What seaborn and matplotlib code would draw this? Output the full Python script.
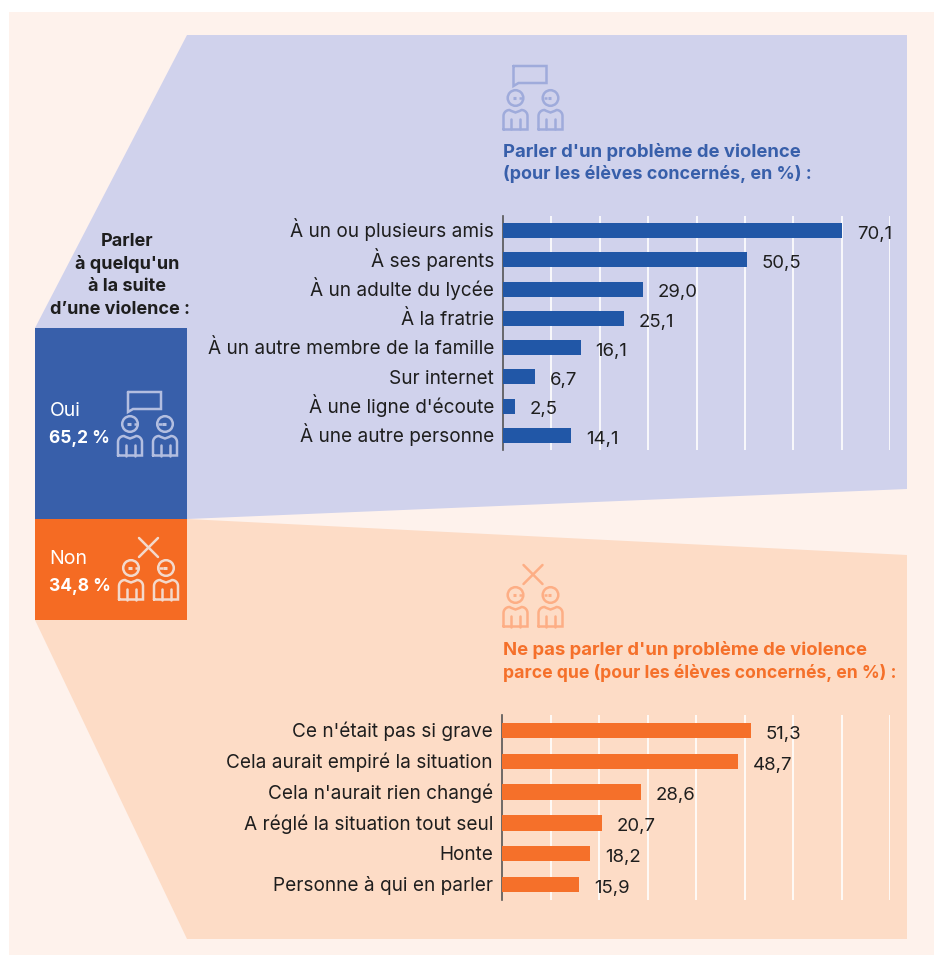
import numpy as np
import pandas as pd
import matplotlib
matplotlib.use("Agg")
import matplotlib.pyplot as plt
from matplotlib.patches import Polygon, Rectangle, Circle
from matplotlib.transforms import ScaledTranslation
import seaborn as sns

W, H = 939, 955

oui_labels = ["À un ou plusieurs amis", "À ses parents", "À un adulte du lycée", "À la fratrie",
              "À un autre membre de la famille", "Sur internet", "À une ligne d'écoute", "À une autre personne"]
oui_values = [70.1, 50.5, 29.0, 25.1, 16.1, 6.7, 2.5, 14.1]

non_labels = ["Ce n'était pas si grave", "Cela aurait empiré la situation", "Cela n'aurait rien changé",
              "A réglé la situation tout seul", "Honte", "Personne à qui en parler"]
non_values = [51.3, 48.7, 28.6, 20.7, 18.2, 15.9]

CREAM = "#FEF2EC"
LAVENDER = "#D0D2EC"
PEACH = "#FDDCC6"
BLUE = "#385FAA"
ORANGE = "#F56B23"
BAR_BLUE = "#2157A7"
BAR_ORANGE = "#F5702A"
INK = "#1E1E1E"
FONT = "Inter"
LABEL_SIZE = 13.7
VALUE_SIZE = 13.4

sns.set_theme(style="white")
plt.rcParams["font.family"] = FONT


def person(bg, x, y, col, side=1, lw=1.8):
    # head, eye marks and body, x/y is the head centre in pixels
    bg.add_patch(Circle((x, y), 7.8, fill=False, ec=col, lw=lw))
    bg.plot([x - 3, x + 0.5], [y, y], color=col, lw=lw + 0.4, solid_capstyle="butt")
    bg.plot([x + 3.5 * side, x + 7 * side], [y, y], color=col, lw=lw, solid_capstyle="butt")
    t = np.linspace(np.pi, 1.5 * np.pi, 10)
    xs = [x - 12] + list(x - 6 + 6 * np.cos(t)) + [x - 4, x, x + 4] + list(x + 6 - 6 * np.cos(t[::-1])) + [x + 12, x + 12, x - 12, x - 12]
    ys = [y + 31.5] + list(y + 18 + 6 * np.sin(t)) + [y + 13, y + 14.5, y + 13] + list(y + 18 + 6 * np.sin(t[::-1])) + [y + 31.5] * 4
    bg.plot(xs, ys, color=col, lw=lw, solid_joinstyle="miter")
    bg.plot([x - 4.5, x - 4.5], [y + 31.5, y + 21], color=col, lw=lw)
    bg.plot([x + 4.5, x + 4.5], [y + 31.5, y + 21], color=col, lw=lw)


def bubble_icon(bg, x, y, col):
    # x, y: head centre of the left person
    person(bg, x, y, col)
    person(bg, x + 35, y, col, side=-1)
    xs = [x - 2, x + 31, x + 31, x + 3, x - 2, x - 2]
    ys = [y - 32, y - 32, y - 15, y - 15, y - 12, y - 32]
    bg.plot(xs, ys, color=col, lw=1.8, solid_joinstyle="miter")


def cross_icon(bg, x, y, col):
    person(bg, x, y, col)
    person(bg, x + 35, y, col, side=-1)
    bg.plot([x + 8, x + 27], [y - 30, y - 11], color=col, lw=1.8)
    bg.plot([x + 8, x + 27], [y - 11, y - 30], color=col, lw=1.8)


def hbar(fig, labels, values, col, left, right, top, bottom, width):
    ax = fig.add_axes([left / W, 1 - bottom / H, (right - left) / W, (bottom - top) / H], zorder=3)
    df = pd.DataFrame({"label": labels, "value": values})
    sns.barplot(data=df, y="label", x="value", color=col, saturation=1, width=width, ax=ax, linewidth=0, zorder=3)
    ax.set_xlim(0, 80)
    ax.set_xticks(np.arange(10, 81, 10))
    ax.tick_params(axis="x", length=0, labelbottom=False)
    ax.tick_params(axis="y", length=0, pad=6.5, labelsize=LABEL_SIZE, labelcolor=INK)
    ax.set_xlabel("")
    ax.set_ylabel("")
    ax.patch.set_alpha(0)
    ax.grid(axis="x", color="white", lw=1.2, zorder=1)
    ax.set_axisbelow(True)
    for s in ["top", "right", "bottom"]:
        ax.spines[s].set_visible(False)
    ax.spines["left"].set_color("#555555")
    ax.spines["left"].set_linewidth(1.2)
    # baseline alignment so accents and descenders do not move the rows
    drop = ScaledTranslation(0, -4.8 / 72, fig.dpi_scale_trans)
    for t in ax.get_yticklabels():
        t.set_verticalalignment("baseline")
        t.set_transform(t.get_transform() + drop)
    texts = ax.bar_label(ax.containers[0], labels=[f"{v:.1f}".replace(".", ",") for v in values],
                         padding=10.5, fontsize=VALUE_SIZE, color=INK)
    for t in texts:
        t.set_verticalalignment("baseline")
        t.xyann = (10.5, -6)
    return ax


fig = plt.figure(figsize=(W / 100, H / 100), dpi=100, facecolor="white")
bg = fig.add_axes([0, 0, 1, 1], zorder=1)
bg.set_xlim(0, W)
bg.set_ylim(H, 0)
bg.axis("off")

bg.add_patch(Rectangle((9, 12), 925, 943, fc=CREAM, ec="none"))
bg.add_patch(Polygon([(35, 328), (187, 35), (907, 35), (907, 489), (187, 519), (35, 519)], fc=LAVENDER, ec="none"))
bg.add_patch(Polygon([(35, 620), (187, 519), (907, 555), (907, 939), (187, 939)], fc=PEACH, ec="none"))
bg.add_patch(Rectangle((35, 328), 152, 191, fc=BLUE, ec="none"))
bg.add_patch(Rectangle((35, 519), 152, 101, fc=ORANGE, ec="none"))

bubble_icon(bg, 130, 424, "#B3BEE0")
cross_icon(bg, 131, 568, "#F3D9CC")
bubble_icon(bg, 515.5, 98, "#9FABDB")
cross_icon(bg, 515.5, 595, "#FDAE85")

bg.text(127, 241, "Parler", ha="center", va="center", fontsize=13, fontweight="bold", color=INK)
bg.text(127, 264, "à quelqu'un", ha="center", va="center", fontsize=13, fontweight="bold", color=INK)
bg.text(127, 286, "à la suite", ha="center", va="center", fontsize=13, fontweight="bold", color=INK)
bg.text(119.5, 309, "d’une violence :", ha="center", va="center", fontsize=13, fontweight="bold", color=INK)

bg.text(49.5, 411, "Oui", va="center", fontsize=14, color="white")
bg.text(49, 438, "65,2 %", va="center", fontsize=12.5, fontweight="bold", color="white")
bg.text(49.5, 559, "Non", va="center", fontsize=14, color="white")
bg.text(49, 586, "34,8 %", va="center", fontsize=12.5, fontweight="bold", color="white")

bg.text(503, 152, "Parler d'un problème de violence", va="center", fontsize=13.3, fontweight="bold", color=BLUE)
bg.text(503, 174, "(pour les élèves concernés, en %) :", va="center", fontsize=12.9, fontweight="bold", color=BLUE)
bg.text(503, 650, "Ne pas parler d'un problème de violence", va="center", fontsize=13.3, fontweight="bold", color=BAR_ORANGE)
bg.text(503, 673, "parce que (pour les élèves concernés, en %) :", va="center", fontsize=12.7, fontweight="bold", color=BAR_ORANGE)

hbar(fig, oui_labels, oui_values, BAR_BLUE, 503, 890, 216, 450, 0.52)
hbar(fig, non_labels, non_values, BAR_ORANGE, 502, 890, 715, 900, 0.5)

fig.savefig("out.png", dpi=100, facecolor="white")
